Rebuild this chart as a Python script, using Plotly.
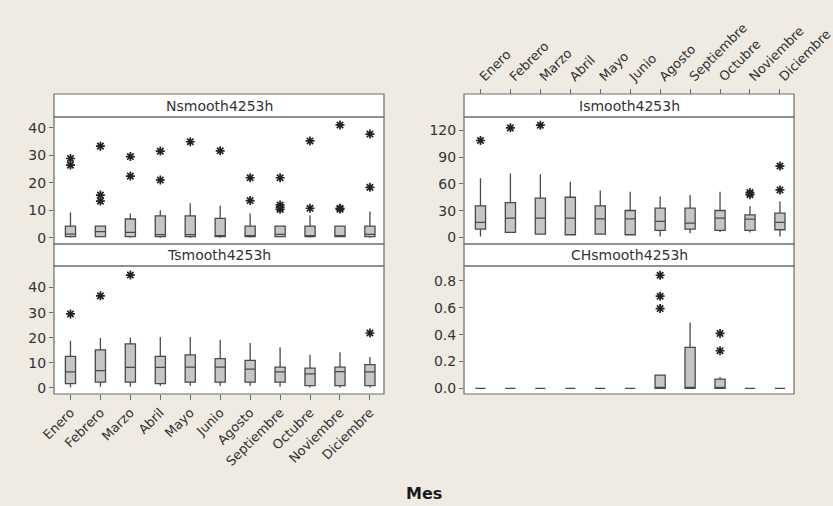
import plotly.graph_objects as go

meses = ["Enero", "Febrero", "Marzo", "Abril", "Mayo", "Junio",
         "Agosto", "Septiembre", "Octubre", "Noviembre", "Diciembre"]

# Nsmooth4253h
n_q1 = [0.4, 0.4, 0.4, 0.4, 0.4, 0.4, 0.4, 0.4, 0.4, 0.4, 0.4]
n_med = [1.3, 2.2, 1.9, 1.1, 1.1, 0.5, 0.5, 1.2, 0.5, 0.5, 1.2]
n_q3 = [4.2, 4.2, 6.8, 7.9, 7.9, 7.0, 4.2, 4.2, 4.2, 4.2, 4.2]
n_lo = [0.0, 0.4, 0.0, 0.0, 0.0, 0.0, 0.0, 0.4, 0.0, 0.4, 0.0]
n_hi = [9.2, 4.2, 8.8, 10.0, 12.5, 11.6, 8.8, 4.2, 8.2, 4.2, 9.5]
n_out_x = ["Enero", "Enero", "Febrero", "Febrero", "Febrero", "Marzo", "Marzo",
           "Abril", "Abril", "Mayo", "Junio", "Agosto", "Agosto",
           "Septiembre", "Septiembre", "Septiembre", "Septiembre",
           "Octubre", "Octubre", "Noviembre", "Noviembre", "Noviembre",
           "Diciembre", "Diciembre"]
n_out_y = [28.8, 26.4, 33.3, 15.5, 13.3, 29.5, 22.4,
           31.5, 21.0, 34.9, 31.6, 21.8, 13.5,
           21.8, 11.9, 11.0, 10.3,
           35.2, 10.7, 41.0, 10.7, 10.4,
           37.7, 18.3]

# Tsmooth4253h
t_q1 = [1.7, 2.3, 2.3, 1.7, 2.3, 2.3, 2.3, 2.3, 0.9, 0.9, 0.9]
t_med = [6.4, 6.9, 8.2, 8.2, 8.3, 8.3, 7.5, 6.4, 5.6, 6.5, 6.4]
t_q3 = [12.6, 15.2, 17.6, 12.6, 13.2, 11.7, 11.0, 8.3, 7.9, 8.3, 9.3]
t_lo = [0.3, 0.5, 0.5, 0.8, 0.8, 0.8, 0.8, 0.5, 0.2, 0.2, 0.2]
t_hi = [18.8, 19.9, 20.1, 20.3, 20.3, 19.2, 17.9, 16.2, 13.2, 14.2, 12.3]
t_out_x = ["Enero", "Febrero", "Marzo", "Diciembre"]
t_out_y = [29.5, 36.7, 45.0, 21.9]

# Ismooth4253h
i_q1 = [9.3, 5.6, 3.7, 3.0, 3.7, 3.0, 7.8, 9.3, 7.8, 7.8, 8.6]
i_med = [16.8, 21.6, 21.6, 21.6, 20.9, 20.9, 17.9, 16.0, 21.6, 20.5, 16.8]
i_q3 = [35.4, 39.1, 44.0, 45.1, 35.4, 30.2, 32.8, 32.8, 30.2, 25.3, 27.2]
i_lo = [1.1, 5.0, 3.0, 2.5, 3.0, 2.5, 1.1, 4.8, 6.0, 5.6, 1.1]
i_hi = [66.3, 71.9, 70.8, 62.6, 52.6, 51.4, 45.8, 47.7, 51.4, 35.4, 40.3]
i_out_x = ["Enero", "Febrero", "Marzo", "Noviembre", "Noviembre", "Diciembre", "Diciembre"]
i_out_y = [108.8, 123.0, 126.0, 50.3, 48.0, 80.1, 53.3]

# CHsmooth4253h
c_q1 = [0, 0, 0, 0, 0, 0, 0, 0, 0, 0, 0]
c_med = [0, 0, 0, 0, 0, 0, 0, 0, 0, 0, 0]
c_q3 = [0, 0, 0, 0, 0, 0, 0.099, 0.305, 0.069, 0, 0]
c_lo = [0, 0, 0, 0, 0, 0, 0, 0, 0, 0, 0]
c_hi = [0, 0, 0, 0, 0, 0, 0.099, 0.49, 0.085, 0, 0]
c_out_x = ["Agosto", "Agosto", "Agosto", "Octubre", "Octubre"]
c_out_y = [0.842, 0.686, 0.594, 0.409, 0.28]

W, H = 833, 506
BG = "#efebe3"
FILL = "#c6c6c6"
EDGE = "#4a4a4a"
AX = "#6a6a6a"
TXT = "#333333"
FONT = "DejaVu Sans"


def px(x):
    return x / W


def py(y):
    return 1 - y / H


# panel geometry in pixels
L_X0, L_X1 = 54, 384
R_X0, R_X1 = 464, 794
STRIP1 = (94, 117)
PLOT1 = (117, 244)
STRIP2 = (244, 266)
PLOT2 = (266, 394)

fig = go.Figure()

panels = [
    ("Nsmooth4253h", "x", "y", n_q1, n_med, n_q3, n_lo, n_hi, n_out_x, n_out_y),
    ("Tsmooth4253h", "x2", "y2", t_q1, t_med, t_q3, t_lo, t_hi, t_out_x, t_out_y),
    ("Ismooth4253h", "x3", "y3", i_q1, i_med, i_q3, i_lo, i_hi, i_out_x, i_out_y),
    ("CHsmooth4253h", "x4", "y4", c_q1, c_med, c_q3, c_lo, c_hi, c_out_x, c_out_y),
]

for name, xa, ya, q1, med, q3, lo, hi, ox, oy in panels:
    fig.add_trace(go.Box(
        x=meses, q1=q1, median=med, q3=q3, lowerfence=lo, upperfence=hi,
        xaxis=xa, yaxis=ya, width=0.34, whiskerwidth=0,
        fillcolor=FILL, line=dict(color=EDGE, width=1.3),
        boxpoints=False, showlegend=False, hoverinfo="skip", name=name))
    fig.add_trace(go.Scatter(
        x=ox, y=oy, mode="markers", xaxis=xa, yaxis=ya,
        marker=dict(symbol="asterisk-open", size=7.5, color="#222222",
                    line=dict(color="#222222", width=1.7)),
        showlegend=False, hoverinfo="skip"))

xrange = [-0.55, 10.47]
common_x = dict(type="category", categoryorder="array", categoryarray=meses,
                range=xrange, showgrid=False, zeroline=False, automargin=False,
                showline=False,
                tickfont=dict(family=FONT, size=13, color=TXT))
common_y = dict(showgrid=False, zeroline=False, ticks="outside", ticklen=4,
                tickcolor=AX, showline=False, automargin=False,
                tickfont=dict(family=FONT, size=14, color=TXT))

fig.update_layout(
    template="none",
    width=W, height=H,
    paper_bgcolor=BG, plot_bgcolor="white",
    margin=dict(l=0, r=0, t=0, b=0, pad=0),
    showlegend=False,
    xaxis=dict(common_x, domain=[px(L_X0), px(L_X1)], anchor="y",
               showticklabels=False, ticks=""),
    yaxis=dict(common_y, domain=[py(PLOT1[1]), py(PLOT1[0])], anchor="x",
               range=[-2.3, 43.9], tickvals=[0, 10, 20, 30, 40]),
    xaxis2=dict(common_x, domain=[px(L_X0), px(L_X1)], anchor="y2",
                ticks="outside", ticklen=5, tickcolor=AX, tickangle=-45,
                side="bottom"),
    yaxis2=dict(common_y, domain=[py(PLOT2[1]), py(PLOT2[0])], anchor="x2",
                range=[-2.4, 48.6], tickvals=[0, 10, 20, 30, 40]),
    xaxis3=dict(common_x, domain=[px(R_X0), px(R_X1)], anchor="free",
                position=py(STRIP1[0]),
                ticks="outside", ticklen=5, tickcolor=AX, tickangle=-45,
                side="top"),
    yaxis3=dict(common_y, domain=[py(PLOT1[1]), py(PLOT1[0])], anchor="x3",
                range=[-7.4, 135.2], tickvals=[0, 30, 60, 90, 120]),
    xaxis4=dict(common_x, domain=[px(R_X0), px(R_X1)], anchor="y4",
                showticklabels=False, ticks=""),
    yaxis4=dict(common_y, domain=[py(PLOT2[1]), py(PLOT2[0])], anchor="x4",
                range=[-0.042, 0.911], tickvals=[0, 0.2, 0.4, 0.6, 0.8],
                tickformat=".1f"),
)

shapes = []
annotations = []

titles = {
    (L_X0, STRIP1): "Nsmooth4253h",
    (L_X0, STRIP2): "Tsmooth4253h",
    (R_X0, STRIP1): "Ismooth4253h",
    (R_X0, STRIP2): "CHsmooth4253h",
}
for (x0, strip), title in titles.items():
    x1 = x0 + (L_X1 - L_X0)
    shapes.append(dict(type="rect", xref="paper", yref="paper",
                       x0=px(x0), x1=px(x1), y0=py(strip[1]), y1=py(strip[0]),
                       fillcolor="white", line=dict(color=AX, width=1.2),
                       layer="below"))
    annotations.append(dict(text=title, xref="paper", yref="paper",
                            x=px((x0 + x1) / 2), y=py((strip[0] + strip[1]) / 2),
                            xanchor="center", yanchor="middle", showarrow=False,
                            font=dict(family=FONT, size=14, color=TXT)))

# borders around plot areas
for x0 in (L_X0, R_X0):
    x1 = x0 + (L_X1 - L_X0)
    for (p0, p1) in (PLOT1, PLOT2):
        shapes.append(dict(type="rect", xref="paper", yref="paper",
                           x0=px(x0), x1=px(x1), y0=py(p1), y1=py(p0),
                           line=dict(color=AX, width=1.2),
                           fillcolor="rgba(0,0,0,0)", layer="above"))

annotations.append(dict(text="<b>Mes</b>", xref="paper", yref="paper",
                        x=px(424), y=py(493), xanchor="center", yanchor="middle",
                        showarrow=False,
                        font=dict(family=FONT, size=16, color="#1a1a1a")))

fig.update_layout(shapes=shapes, annotations=annotations)

fig.write_html(
    "out.html",
    config={"displayModeBar": False, "staticPlot": True},
    post_script="document.body.style.margin='0';"
                "document.body.style.overflow='hidden';"
                "document.body.style.background='" + BG + "';",
)
